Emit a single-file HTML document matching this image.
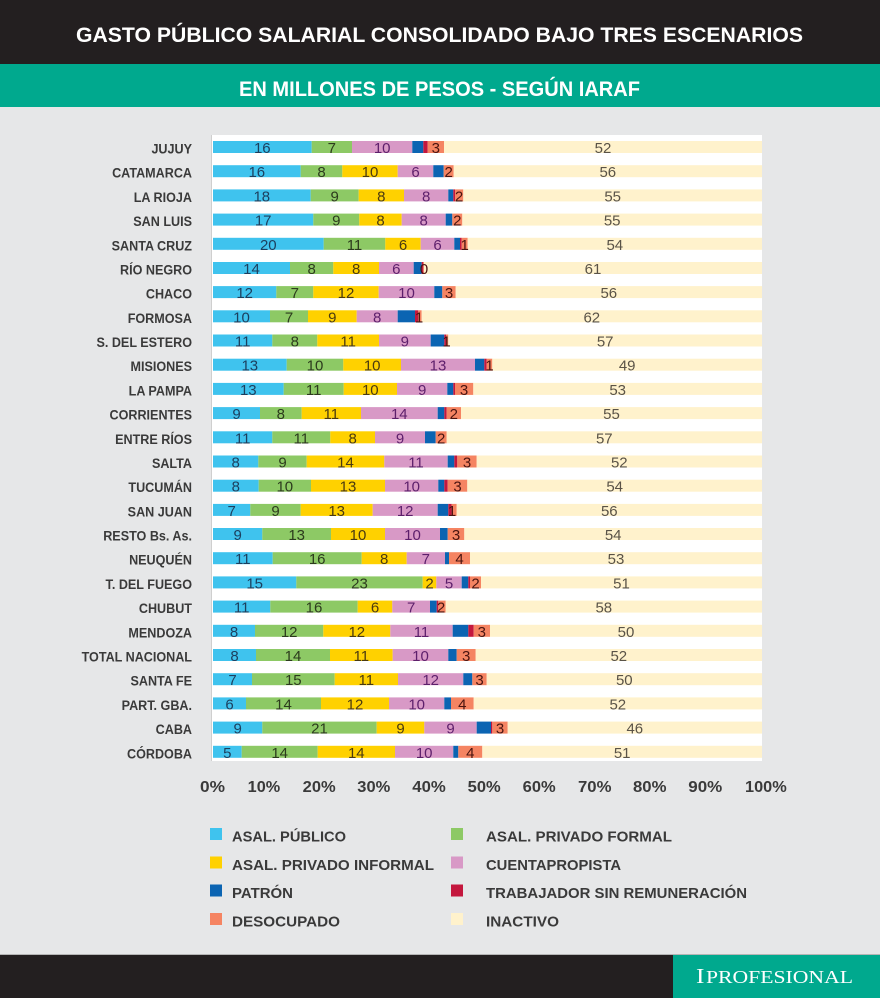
<!DOCTYPE html>
<html><head><meta charset="utf-8"><style>
html,body{margin:0;padding:0;background:#e6e7e8;}
svg{display:block;}
.c{fill:#3fc3ee}.g{fill:#8dc965}.y{fill:#ffd100}.p{fill:#d899c6}.b{fill:#0b64b2}.r{fill:#c4173d}.o{fill:#f58462}.k{fill:#fff2cc}
text{font-family:"Liberation Sans",sans-serif;}
.rl{font-size:14px;font-weight:bold;fill:#3a3a3a;text-anchor:end;}
.d{font-size:15px;text-anchor:middle;}
.dc{fill:#1c3f5e}.dg{fill:#2c3b1d}.dy{fill:#4a3a10}.dp{fill:#5d1f6b}.do{fill:#4a1410}.dk{fill:#5a5347}
.tk{font-size:16px;font-weight:bold;fill:#3a3a3a;}
.lg{font-size:15px;font-weight:bold;fill:#3a3a3a;}
</style></head><body>
<svg width="880" height="998" viewBox="0 0 880 998" xmlns="http://www.w3.org/2000/svg">
<rect x="0" y="0" width="880" height="998" fill="#e6e7e8"/>
<rect x="0" y="0" width="880" height="64" fill="#231f20"/>
<rect x="0" y="64" width="880" height="43" fill="#00a98e"/>
<text x="76" y="42" font-size="21" font-weight="bold" fill="#fff" textLength="727" lengthAdjust="spacingAndGlyphs">GASTO PÚBLICO SALARIAL CONSOLIDADO BAJO TRES ESCENARIOS</text>
<text x="239" y="96" font-size="21" font-weight="bold" fill="#fff" textLength="401" lengthAdjust="spacingAndGlyphs">EN MILLONES DE PESOS - SEGÚN IARAF</text>

<rect x="211" y="135" width="551" height="626" fill="#ffffff"/>
<line x1="211.5" y1="135" x2="211.5" y2="761" stroke="#cfcfcf" stroke-width="1"/>

<!-- Row 0 JUJUY -->
<g transform="translate(0,141)">
<text class="rl" transform="translate(192,12.5) scale(0.9,1)">JUJUY</text>
<rect class="c" x="213" y="0" width="98.7" height="12"/><rect class="g" x="311.7" y="0" width="40.3" height="12"/><rect class="p" x="352" y="0" width="60.3" height="12"/><rect class="b" x="412.3" y="0" width="11" height="12"/><rect class="r" x="423.3" y="0" width="4.4" height="12"/><rect class="o" x="427.7" y="0" width="16.3" height="12"/><rect class="k" x="444" y="0" width="318" height="12"/>
<text class="d dc" x="262.3" y="12">16</text><text class="d dg" x="331.8" y="12">7</text><text class="d dp" x="382.2" y="12">10</text><text class="d do" x="435.8" y="12">3</text><text class="d dk" x="603" y="12">52</text>
</g>
<!-- Row 1 CATAMARCA -->
<g transform="translate(0,165.2)">
<text class="rl" transform="translate(192,12.5) scale(0.9,1)">CATAMARCA</text>
<rect class="c" x="213" y="0" width="87.7" height="12"/><rect class="g" x="300.7" y="0" width="41.6" height="12"/><rect class="y" x="342.3" y="0" width="55.4" height="12"/><rect class="p" x="397.7" y="0" width="35.6" height="12"/><rect class="b" x="433.3" y="0" width="10.4" height="12"/><rect class="o" x="443.7" y="0" width="10" height="12"/><rect class="k" x="453.7" y="0" width="308.3" height="12"/>
<text class="d dc" x="256.8" y="12">16</text><text class="d dg" x="321.5" y="12">8</text><text class="d dy" x="370" y="12">10</text><text class="d dp" x="415.5" y="12">6</text><text class="d do" x="448.7" y="12">2</text><text class="d dk" x="607.8" y="12">56</text>
</g>
<!-- Row 2 LA RIOJA -->
<g transform="translate(0,189.4)">
<text class="rl" transform="translate(192,12.5) scale(0.9,1)">LA RIOJA</text>
<rect class="c" x="213" y="0" width="97.7" height="12"/><rect class="g" x="310.7" y="0" width="48" height="12"/><rect class="y" x="358.7" y="0" width="45.3" height="12"/><rect class="p" x="404" y="0" width="44.3" height="12"/><rect class="b" x="448.3" y="0" width="5" height="12"/><rect class="r" x="453.3" y="0" width="1.7" height="12"/><rect class="o" x="455" y="0" width="8.3" height="12"/><rect class="k" x="463.3" y="0" width="298.7" height="12"/>
<text class="d dc" x="261.8" y="12">18</text><text class="d dg" x="334.7" y="12">9</text><text class="d dy" x="381.3" y="12">8</text><text class="d dp" x="426.2" y="12">8</text><text class="d do" x="459" y="12">2</text><text class="d dk" x="612.7" y="12">55</text>
</g>
<!-- Row 3 SAN LUIS -->
<g transform="translate(0,213.6)">
<text class="rl" transform="translate(192,12.5) scale(0.9,1)">SAN LUIS</text>
<rect class="c" x="213" y="0" width="100.3" height="12"/><rect class="g" x="313.3" y="0" width="46" height="12"/><rect class="y" x="359.3" y="0" width="42.4" height="12"/><rect class="p" x="401.7" y="0" width="44" height="12"/><rect class="b" x="445.7" y="0" width="6.6" height="12"/><rect class="o" x="452.3" y="0" width="10" height="12"/><rect class="k" x="462.3" y="0" width="299.7" height="12"/>
<text class="d dc" x="263.2" y="12">17</text><text class="d dg" x="336.3" y="12">9</text><text class="d dy" x="380.5" y="12">8</text><text class="d dp" x="423.7" y="12">8</text><text class="d do" x="457.3" y="12">2</text><text class="d dk" x="612.2" y="12">55</text>
</g>
<!-- Row 4 SANTA CRUZ -->
<g transform="translate(0,237.8)">
<text class="rl" transform="translate(192,12.5) scale(0.9,1)">SANTA CRUZ</text>
<rect class="c" x="213" y="0" width="110.7" height="12"/><rect class="g" x="323.7" y="0" width="61.6" height="12"/><rect class="y" x="385.3" y="0" width="35.4" height="12"/><rect class="p" x="420.7" y="0" width="33.6" height="12"/><rect class="b" x="454.3" y="0" width="5.7" height="12"/><rect class="r" x="460" y="0" width="1.7" height="12"/><rect class="o" x="461.7" y="0" width="6" height="12"/><rect class="k" x="467.7" y="0" width="294.3" height="12"/>
<text class="d dc" x="268.3" y="12">20</text><text class="d dg" x="354.5" y="12">11</text><text class="d dy" x="403" y="12">6</text><text class="d dp" x="437.5" y="12">6</text><text class="d do" x="464.7" y="12">1</text><text class="d dk" x="614.8" y="12">54</text>
</g>
<!-- Row 5 RÍO NEGRO -->
<g transform="translate(0,262)">
<text class="rl" transform="translate(192,12.5) scale(0.9,1)">RÍO NEGRO</text>
<rect class="c" x="213" y="0" width="77" height="12"/><rect class="g" x="290" y="0" width="43.3" height="12"/><rect class="y" x="333.3" y="0" width="45.7" height="12"/><rect class="p" x="379" y="0" width="34.7" height="12"/><rect class="b" x="413.7" y="0" width="8" height="12"/><rect class="r" x="421.7" y="0" width="1.6" height="12"/><rect class="o" x="423.3" y="0" width="0.7" height="12"/><rect class="k" x="424" y="0" width="338" height="12"/>
<text class="d dc" x="251.5" y="12">14</text><text class="d dg" x="311.7" y="12">8</text><text class="d dy" x="356.2" y="12">8</text><text class="d dp" x="396.3" y="12">6</text><text class="d do" x="424" y="12">0</text><text class="d dk" x="593" y="12">61</text>
</g>
<!-- Row 6 CHACO -->
<g transform="translate(0,286.1)">
<text class="rl" transform="translate(192,12.5) scale(0.9,1)">CHACO</text>
<rect class="c" x="213" y="0" width="63.3" height="12"/><rect class="g" x="276.3" y="0" width="37" height="12"/><rect class="y" x="313.3" y="0" width="65.4" height="12"/><rect class="p" x="378.7" y="0" width="55.6" height="12"/><rect class="b" x="434.3" y="0" width="8" height="12"/><rect class="o" x="442.3" y="0" width="13.4" height="12"/><rect class="k" x="455.7" y="0" width="306.3" height="12"/>
<text class="d dc" x="244.7" y="12">12</text><text class="d dg" x="294.8" y="12">7</text><text class="d dy" x="346" y="12">12</text><text class="d dp" x="406.5" y="12">10</text><text class="d do" x="449" y="12">3</text><text class="d dk" x="608.8" y="12">56</text>
</g>
<!-- Row 7 FORMOSA -->
<g transform="translate(0,310.3)">
<text class="rl" transform="translate(192,12.5) scale(0.9,1)">FORMOSA</text>
<rect class="c" x="213" y="0" width="57" height="12"/><rect class="g" x="270" y="0" width="38" height="12"/><rect class="y" x="308" y="0" width="48.7" height="12"/><rect class="p" x="356.7" y="0" width="41" height="12"/><rect class="b" x="397.7" y="0" width="17.3" height="12"/><rect class="r" x="415" y="0" width="3.3" height="12"/><rect class="o" x="418.3" y="0" width="3.4" height="12"/><rect class="k" x="421.7" y="0" width="340.3" height="12"/>
<text class="d dc" x="241.5" y="12">10</text><text class="d dg" x="289" y="12">7</text><text class="d dy" x="332.3" y="12">9</text><text class="d dp" x="377.2" y="12">8</text><text class="d do" x="419" y="12">1</text><text class="d dk" x="591.8" y="12">62</text>
</g>
<!-- Row 8 S. DEL ESTERO -->
<g transform="translate(0,334.5)">
<text class="rl" transform="translate(192,12.5) scale(0.9,1)">S. DEL ESTERO</text>
<rect class="c" x="213" y="0" width="59.3" height="12"/><rect class="g" x="272.3" y="0" width="45" height="12"/><rect class="y" x="317.3" y="0" width="61.7" height="12"/><rect class="p" x="379" y="0" width="51.7" height="12"/><rect class="b" x="430.7" y="0" width="13.6" height="12"/><rect class="r" x="444.3" y="0" width="1.7" height="12"/><rect class="o" x="446" y="0" width="2.3" height="12"/><rect class="k" x="448.3" y="0" width="313.7" height="12"/>
<text class="d dc" x="242.7" y="12">11</text><text class="d dg" x="294.8" y="12">8</text><text class="d dy" x="348.2" y="12">11</text><text class="d dp" x="404.8" y="12">9</text><text class="d do" x="446.5" y="12">1</text><text class="d dk" x="605.2" y="12">57</text>
</g>
<!-- Row 9 MISIONES -->
<g transform="translate(0,358.7)">
<text class="rl" transform="translate(192,12.5) scale(0.9,1)">MISIONES</text>
<rect class="c" x="213" y="0" width="73.7" height="12"/><rect class="g" x="286.7" y="0" width="56.6" height="12"/><rect class="y" x="343.3" y="0" width="57.7" height="12"/><rect class="p" x="401" y="0" width="74" height="12"/><rect class="b" x="475" y="0" width="9.3" height="12"/><rect class="r" x="484.3" y="0" width="2.4" height="12"/><rect class="o" x="486.7" y="0" width="5.6" height="12"/><rect class="k" x="492.3" y="0" width="269.7" height="12"/>
<text class="d dc" x="249.8" y="12">13</text><text class="d dg" x="315" y="12">10</text><text class="d dy" x="372.2" y="12">10</text><text class="d dp" x="438" y="12">13</text><text class="d do" x="489.5" y="12">1</text><text class="d dk" x="627.2" y="12">49</text>
</g>
<!-- Row 10 LA PAMPA -->
<g transform="translate(0,382.9)">
<text class="rl" transform="translate(192,12.5) scale(0.9,1)">LA PAMPA</text>
<rect class="c" x="213" y="0" width="70.7" height="12"/><rect class="g" x="283.7" y="0" width="60" height="12"/><rect class="y" x="343.7" y="0" width="53.3" height="12"/><rect class="p" x="397" y="0" width="50.3" height="12"/><rect class="b" x="447.3" y="0" width="6" height="12"/><rect class="r" x="453.3" y="0" width="1.7" height="12"/><rect class="o" x="455" y="0" width="18.3" height="12"/><rect class="k" x="473.3" y="0" width="288.7" height="12"/>
<text class="d dc" x="248.3" y="12">13</text><text class="d dg" x="313.7" y="12">11</text><text class="d dy" x="370.3" y="12">10</text><text class="d dp" x="422.2" y="12">9</text><text class="d do" x="464" y="12">3</text><text class="d dk" x="617.7" y="12">53</text>
</g>
<!-- Row 11 CORRIENTES -->
<g transform="translate(0,407.1)">
<text class="rl" transform="translate(192,12.5) scale(0.9,1)">CORRIENTES</text>
<rect class="c" x="213" y="0" width="47" height="12"/><rect class="g" x="260" y="0" width="41.7" height="12"/><rect class="y" x="301.7" y="0" width="59.3" height="12"/><rect class="p" x="361" y="0" width="76.7" height="12"/><rect class="b" x="437.7" y="0" width="6.6" height="12"/><rect class="r" x="444.3" y="0" width="2.4" height="12"/><rect class="o" x="446.7" y="0" width="14.3" height="12"/><rect class="k" x="461" y="0" width="301" height="12"/>
<text class="d dc" x="236.5" y="12">9</text><text class="d dg" x="280.8" y="12">8</text><text class="d dy" x="331.3" y="12">11</text><text class="d dp" x="399.3" y="12">14</text><text class="d do" x="453.8" y="12">2</text><text class="d dk" x="611.5" y="12">55</text>
</g>
<!-- Row 12 ENTRE RÍOS -->
<g transform="translate(0,431.3)">
<text class="rl" transform="translate(192,12.5) scale(0.9,1)">ENTRE RÍOS</text>
<rect class="c" x="213" y="0" width="59.3" height="12"/><rect class="g" x="272.3" y="0" width="58" height="12"/><rect class="y" x="330.3" y="0" width="44.7" height="12"/><rect class="p" x="375" y="0" width="50" height="12"/><rect class="b" x="425" y="0" width="10.7" height="12"/><rect class="o" x="435.7" y="0" width="11" height="12"/><rect class="k" x="446.7" y="0" width="315.3" height="12"/>
<text class="d dc" x="242.7" y="12">11</text><text class="d dg" x="301.3" y="12">11</text><text class="d dy" x="352.7" y="12">8</text><text class="d dp" x="400" y="12">9</text><text class="d do" x="441.2" y="12">2</text><text class="d dk" x="604.3" y="12">57</text>
</g>
<!-- Row 13 SALTA -->
<g transform="translate(0,455.5)">
<text class="rl" transform="translate(192,12.5) scale(0.9,1)">SALTA</text>
<rect class="c" x="213" y="0" width="45.3" height="12"/><rect class="g" x="258.3" y="0" width="48.4" height="12"/><rect class="y" x="306.7" y="0" width="77.6" height="12"/><rect class="p" x="384.3" y="0" width="63.4" height="12"/><rect class="b" x="447.7" y="0" width="6.6" height="12"/><rect class="r" x="454.3" y="0" width="3" height="12"/><rect class="o" x="457.3" y="0" width="19.4" height="12"/><rect class="k" x="476.7" y="0" width="285.3" height="12"/>
<text class="d dc" x="235.7" y="12">8</text><text class="d dg" x="282.5" y="12">9</text><text class="d dy" x="345.5" y="12">14</text><text class="d dp" x="416" y="12">11</text><text class="d do" x="467" y="12">3</text><text class="d dk" x="619.3" y="12">52</text>
</g>
<!-- Row 14 TUCUMÁN -->
<g transform="translate(0,479.7)">
<text class="rl" transform="translate(192,12.5) scale(0.9,1)">TUCUMÁN</text>
<rect class="c" x="213" y="0" width="45.7" height="12"/><rect class="g" x="258.7" y="0" width="52.3" height="12"/><rect class="y" x="311" y="0" width="74" height="12"/><rect class="p" x="385" y="0" width="53.3" height="12"/><rect class="b" x="438.3" y="0" width="6" height="12"/><rect class="r" x="444.3" y="0" width="3.4" height="12"/><rect class="o" x="447.7" y="0" width="19.6" height="12"/><rect class="k" x="467.3" y="0" width="294.7" height="12"/>
<text class="d dc" x="235.8" y="12">8</text><text class="d dg" x="284.8" y="12">10</text><text class="d dy" x="348" y="12">13</text><text class="d dp" x="411.7" y="12">10</text><text class="d do" x="457.5" y="12">3</text><text class="d dk" x="614.7" y="12">54</text>
</g>
<!-- Row 15 SAN JUAN -->
<g transform="translate(0,503.9)">
<text class="rl" transform="translate(192,12.5) scale(0.9,1)">SAN JUAN</text>
<rect class="c" x="213" y="0" width="37.3" height="12"/><rect class="g" x="250.3" y="0" width="50.4" height="12"/><rect class="y" x="300.7" y="0" width="72" height="12"/><rect class="p" x="372.7" y="0" width="65" height="12"/><rect class="b" x="437.7" y="0" width="10.6" height="12"/><rect class="r" x="448.3" y="0" width="3.4" height="12"/><rect class="o" x="451.7" y="0" width="5" height="12"/><rect class="k" x="456.7" y="0" width="305.3" height="12"/>
<text class="d dc" x="231.7" y="12">7</text><text class="d dg" x="275.5" y="12">9</text><text class="d dy" x="336.7" y="12">13</text><text class="d dp" x="405.2" y="12">12</text><text class="d do" x="452" y="12">1</text><text class="d dk" x="609.3" y="12">56</text>
</g>
<!-- Row 16 RESTO Bs. As. -->
<g transform="translate(0,528)">
<text class="rl" transform="translate(192,12.5) scale(0.9,1)">RESTO Bs. As.</text>
<rect class="c" x="213" y="0" width="49.3" height="12"/><rect class="g" x="262.3" y="0" width="68.7" height="12"/><rect class="y" x="331" y="0" width="54" height="12"/><rect class="p" x="385" y="0" width="55" height="12"/><rect class="b" x="440" y="0" width="7.7" height="12"/><rect class="o" x="447.7" y="0" width="16.6" height="12"/><rect class="k" x="464.3" y="0" width="297.7" height="12"/>
<text class="d dc" x="237.7" y="12">9</text><text class="d dg" x="296.7" y="12">13</text><text class="d dy" x="358" y="12">10</text><text class="d dp" x="412.5" y="12">10</text><text class="d do" x="456" y="12">3</text><text class="d dk" x="613.2" y="12">54</text>
</g>
<!-- Row 17 NEUQUÉN -->
<g transform="translate(0,552.2)">
<text class="rl" transform="translate(192,12.5) scale(0.9,1)">NEUQUÉN</text>
<rect class="c" x="213" y="0" width="59.7" height="12"/><rect class="g" x="272.7" y="0" width="89" height="12"/><rect class="y" x="361.7" y="0" width="45" height="12"/><rect class="p" x="406.7" y="0" width="38.3" height="12"/><rect class="b" x="445" y="0" width="4" height="12"/><rect class="o" x="449" y="0" width="21" height="12"/><rect class="k" x="470" y="0" width="292" height="12"/>
<text class="d dc" x="242.8" y="12">11</text><text class="d dg" x="317.2" y="12">16</text><text class="d dy" x="384.2" y="12">8</text><text class="d dp" x="425.8" y="12">7</text><text class="d do" x="459.5" y="12">4</text><text class="d dk" x="616" y="12">53</text>
</g>
<!-- Row 18 T. DEL FUEGO -->
<g transform="translate(0,576.4)">
<text class="rl" transform="translate(192,12.5) scale(0.9,1)">T. DEL FUEGO</text>
<rect class="c" x="213" y="0" width="83.3" height="12"/><rect class="g" x="296.3" y="0" width="126.4" height="12"/><rect class="y" x="422.7" y="0" width="13.6" height="12"/><rect class="p" x="436.3" y="0" width="25.4" height="12"/><rect class="b" x="461.7" y="0" width="6.6" height="12"/><rect class="r" x="468.3" y="0" width="1.7" height="12"/><rect class="o" x="470" y="0" width="11" height="12"/><rect class="k" x="481" y="0" width="281" height="12"/>
<text class="d dc" x="254.7" y="12">15</text><text class="d dg" x="359.5" y="12">23</text><text class="d dy" x="429.5" y="12">2</text><text class="d dp" x="449" y="12">5</text><text class="d do" x="475.5" y="12">2</text><text class="d dk" x="621.5" y="12">51</text>
</g>
<!-- Row 19 CHUBUT -->
<g transform="translate(0,600.6)">
<text class="rl" transform="translate(192,12.5) scale(0.9,1)">CHUBUT</text>
<rect class="c" x="213" y="0" width="57.3" height="12"/><rect class="g" x="270.3" y="0" width="87.4" height="12"/><rect class="y" x="357.7" y="0" width="34.6" height="12"/><rect class="p" x="392.3" y="0" width="37.7" height="12"/><rect class="b" x="430" y="0" width="6.7" height="12"/><rect class="r" x="436.7" y="0" width="1.6" height="12"/><rect class="o" x="438.3" y="0" width="7.4" height="12"/><rect class="k" x="445.7" y="0" width="316.3" height="12"/>
<text class="d dc" x="241.7" y="12">11</text><text class="d dg" x="314" y="12">16</text><text class="d dy" x="375" y="12">6</text><text class="d dp" x="411.2" y="12">7</text><text class="d do" x="441" y="12">2</text><text class="d dk" x="603.8" y="12">58</text>
</g>
<!-- Row 20 MENDOZA -->
<g transform="translate(0,624.8)">
<text class="rl" transform="translate(192,12.5) scale(0.9,1)">MENDOZA</text>
<rect class="c" x="213" y="0" width="42" height="12"/><rect class="g" x="255" y="0" width="68.3" height="12"/><rect class="y" x="323.3" y="0" width="67" height="12"/><rect class="p" x="390.3" y="0" width="62.4" height="12"/><rect class="b" x="452.7" y="0" width="15.6" height="12"/><rect class="r" x="468.3" y="0" width="5.4" height="12"/><rect class="o" x="473.7" y="0" width="16.3" height="12"/><rect class="k" x="490" y="0" width="272" height="12"/>
<text class="d dc" x="234" y="12">8</text><text class="d dg" x="289.2" y="12">12</text><text class="d dy" x="356.8" y="12">12</text><text class="d dp" x="421.5" y="12">11</text><text class="d do" x="481.8" y="12">3</text><text class="d dk" x="626" y="12">50</text>
</g>
<!-- Row 21 TOTAL NACIONAL -->
<g transform="translate(0,649)">
<text class="rl" transform="translate(192,12.5) scale(0.9,1)">TOTAL NACIONAL</text>
<rect class="c" x="213" y="0" width="43" height="12"/><rect class="g" x="256" y="0" width="74" height="12"/><rect class="y" x="330" y="0" width="62.7" height="12"/><rect class="p" x="392.7" y="0" width="55.6" height="12"/><rect class="b" x="448.3" y="0" width="8.4" height="12"/><rect class="o" x="456.7" y="0" width="19" height="12"/><rect class="k" x="475.7" y="0" width="286.3" height="12"/>
<text class="d dc" x="234.5" y="12">8</text><text class="d dg" x="293" y="12">14</text><text class="d dy" x="361.3" y="12">11</text><text class="d dp" x="420.5" y="12">10</text><text class="d do" x="466.2" y="12">3</text><text class="d dk" x="618.8" y="12">52</text>
</g>
<!-- Row 22 SANTA FE -->
<g transform="translate(0,673.2)">
<text class="rl" transform="translate(192,12.5) scale(0.9,1)">SANTA FE</text>
<rect class="c" x="213" y="0" width="39" height="12"/><rect class="g" x="252" y="0" width="82.7" height="12"/><rect class="y" x="334.7" y="0" width="63.3" height="12"/><rect class="p" x="398" y="0" width="65.3" height="12"/><rect class="b" x="463.3" y="0" width="9" height="12"/><rect class="o" x="472.3" y="0" width="14.4" height="12"/><rect class="k" x="486.7" y="0" width="275.3" height="12"/>
<text class="d dc" x="232.5" y="12">7</text><text class="d dg" x="293.3" y="12">15</text><text class="d dy" x="366.3" y="12">11</text><text class="d dp" x="430.7" y="12">12</text><text class="d do" x="479.5" y="12">3</text><text class="d dk" x="624.3" y="12">50</text>
</g>
<!-- Row 23 PART. GBA. -->
<g transform="translate(0,697.4)">
<text class="rl" transform="translate(192,12.5) scale(0.9,1)">PART. GBA.</text>
<rect class="c" x="213" y="0" width="33" height="12"/><rect class="g" x="246" y="0" width="75" height="12"/><rect class="y" x="321" y="0" width="68" height="12"/><rect class="p" x="389" y="0" width="55.3" height="12"/><rect class="b" x="444.3" y="0" width="6.7" height="12"/><rect class="o" x="451" y="0" width="22.7" height="12"/><rect class="k" x="473.7" y="0" width="288.3" height="12"/>
<text class="d dc" x="229.5" y="12">6</text><text class="d dg" x="283.5" y="12">14</text><text class="d dy" x="355" y="12">12</text><text class="d dp" x="416.7" y="12">10</text><text class="d do" x="462.3" y="12">4</text><text class="d dk" x="617.8" y="12">52</text>
</g>
<!-- Row 24 CABA -->
<g transform="translate(0,721.6)">
<text class="rl" transform="translate(192,12.5) scale(0.9,1)">CABA</text>
<rect class="c" x="213" y="0" width="49.3" height="12"/><rect class="g" x="262.3" y="0" width="114.4" height="12"/><rect class="y" x="376.7" y="0" width="47.6" height="12"/><rect class="p" x="424.3" y="0" width="52.4" height="12"/><rect class="b" x="476.7" y="0" width="14.3" height="12"/><rect class="r" x="491" y="0" width="1.3" height="12"/><rect class="o" x="492.3" y="0" width="15.4" height="12"/><rect class="k" x="507.7" y="0" width="254.3" height="12"/>
<text class="d dc" x="237.7" y="12">9</text><text class="d dg" x="319.5" y="12">21</text><text class="d dy" x="400.5" y="12">9</text><text class="d dp" x="450.5" y="12">9</text><text class="d do" x="500" y="12">3</text><text class="d dk" x="634.8" y="12">46</text>
</g>
<!-- Row 25 CÓRDOBA -->
<g transform="translate(0,745.8)">
<text class="rl" transform="translate(192,12.5) scale(0.9,1)">CÓRDOBA</text>
<rect class="c" x="213" y="0" width="28.7" height="12"/><rect class="g" x="241.7" y="0" width="76" height="12"/><rect class="y" x="317.7" y="0" width="77.3" height="12"/><rect class="p" x="395" y="0" width="58.3" height="12"/><rect class="b" x="453.3" y="0" width="5" height="12"/><rect class="o" x="458.3" y="0" width="24" height="12"/><rect class="k" x="482.3" y="0" width="279.7" height="12"/>
<text class="d dc" x="227.3" y="12">5</text><text class="d dg" x="279.7" y="12">14</text><text class="d dy" x="356.3" y="12">14</text><text class="d dp" x="424.2" y="12">10</text><text class="d do" x="470.3" y="12">4</text><text class="d dk" x="622.2" y="12">51</text>
</g>

<!-- X axis tick labels -->
<text class="tk" x="200" y="792" textLength="25" lengthAdjust="spacingAndGlyphs">0%</text>
<text class="tk" x="247.7" y="792" textLength="32.5" lengthAdjust="spacingAndGlyphs">10%</text>
<text class="tk" x="302.7" y="792" textLength="33" lengthAdjust="spacingAndGlyphs">20%</text>
<text class="tk" x="357.3" y="792" textLength="33" lengthAdjust="spacingAndGlyphs">30%</text>
<text class="tk" x="412.3" y="792" textLength="33.5" lengthAdjust="spacingAndGlyphs">40%</text>
<text class="tk" x="467.7" y="792" textLength="33" lengthAdjust="spacingAndGlyphs">50%</text>
<text class="tk" x="522.7" y="792" textLength="33" lengthAdjust="spacingAndGlyphs">60%</text>
<text class="tk" x="578" y="792" textLength="33.5" lengthAdjust="spacingAndGlyphs">70%</text>
<text class="tk" x="633" y="792" textLength="33.5" lengthAdjust="spacingAndGlyphs">80%</text>
<text class="tk" x="688.3" y="792" textLength="34" lengthAdjust="spacingAndGlyphs">90%</text>
<text class="tk" x="745" y="792" textLength="41.7" lengthAdjust="spacingAndGlyphs">100%</text>

<!-- Legend -->
<rect class="c" x="210" y="828" width="12" height="12"/>
<text class="lg" x="232" y="841.5" textLength="114" lengthAdjust="spacingAndGlyphs">ASAL. PÚBLICO</text>
<rect class="g" x="451" y="828" width="12" height="12"/>
<text class="lg" x="486" y="841.5" textLength="186" lengthAdjust="spacingAndGlyphs">ASAL. PRIVADO FORMAL</text>

<rect class="y" x="210" y="856.5" width="12" height="12"/>
<text class="lg" x="232" y="870" textLength="202" lengthAdjust="spacingAndGlyphs">ASAL. PRIVADO INFORMAL</text>
<rect class="p" x="451" y="856.5" width="12" height="12"/>
<text class="lg" x="486" y="870" textLength="135" lengthAdjust="spacingAndGlyphs">CUENTAPROPISTA</text>

<rect class="b" x="210" y="884.5" width="12" height="12"/>
<text class="lg" x="232" y="898" textLength="61" lengthAdjust="spacingAndGlyphs">PATRÓN</text>
<rect class="r" x="451" y="884.5" width="12" height="12"/>
<text class="lg" x="486" y="898" textLength="261" lengthAdjust="spacingAndGlyphs">TRABAJADOR SIN REMUNERACIÓN</text>

<rect class="o" x="210" y="913" width="12" height="12"/>
<text class="lg" x="232" y="926.5" textLength="108" lengthAdjust="spacingAndGlyphs">DESOCUPADO</text>
<rect class="k" x="451" y="913" width="12" height="12"/>
<text class="lg" x="486" y="926.5" textLength="73" lengthAdjust="spacingAndGlyphs">INACTIVO</text>

<!-- Footer -->
<rect x="0" y="954" width="880" height="1" fill="#b5b5b5"/>
<rect x="0" y="955" width="880" height="43" fill="#231f20"/>
<rect x="673" y="955" width="207" height="43" fill="#00a98e"/>
<text x="696" y="983" font-size="21.5" fill="#ffffff" textLength="8.5" lengthAdjust="spacingAndGlyphs" style="font-family:'Liberation Serif',serif">I</text>
<text x="706" y="983" font-size="18" fill="#ffffff" textLength="147" lengthAdjust="spacingAndGlyphs" style="font-family:'Liberation Serif',serif">PROFESIONAL</text>
</svg>
</body></html>
